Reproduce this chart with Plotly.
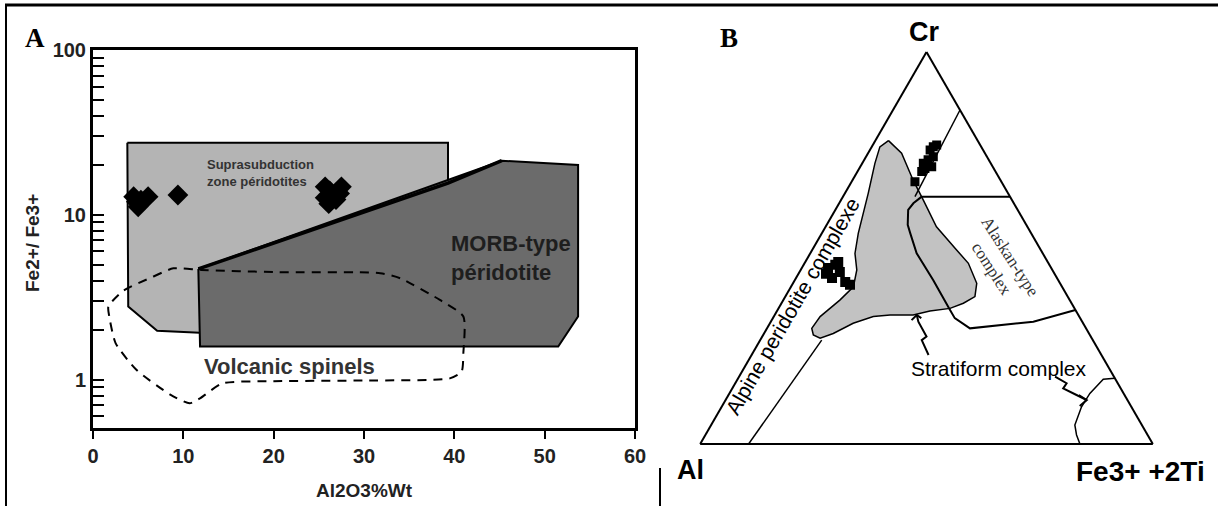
import math
import plotly.graph_objects as go

# ---------------- Panel A data ----------------
supra_x = [3.8, 39.3, 39.3, 11.8, 7.1, 3.9, 3.8]
supra_y = [27.4, 27.4, 12.0, 1.93, 1.98, 2.78, 27.4]

morb_x = [11.66, 45.25, 53.7, 53.7, 51.5, 11.85, 11.66]
morb_y = [4.7, 21.3, 20.1, 2.42, 1.59, 1.59, 4.7]

morb_edge_x = [11.66, 39.3, 45.25]
morb_edge_y = [4.7, 15.6, 21.3]

volc_x = [3.3, 6.7, 8.9, 12.0, 20.0, 31.8, 34.0, 38.4, 41.0, 41.0, 40.8, 39.5, 30.0, 20.0,
          14.3, 11.9, 10.7, 8.6, 4.8, 2.5, 1.8, 1.7, 3.3]
volc_y = [3.45, 4.23, 4.74, 4.64, 4.5, 4.43, 4.13, 3.05, 2.42, 1.46, 1.12, 1.02, 0.99, 0.98,
          0.95, 0.775, 0.72, 0.81, 1.15, 1.67, 2.42, 2.78, 3.45]

grpA_x = [4.5, 5.0, 6.1, 5.3, 4.8, 9.4]
grpA_y = [12.9, 11.2, 12.9, 12.3, 12.0, 13.2]
grpB_x = [25.7, 27.5, 26.1, 26.6, 27.3, 25.7, 26.9, 26.2]
grpB_y = [14.8, 14.8, 11.7, 13.1, 13.5, 12.7, 12.4, 14.0]

x_ticks = [0, 10, 20, 30, 40, 50, 60]
y_ticks = [0.6, 0.7, 0.8, 0.9, 1, 2, 3, 4, 5, 6, 7, 8, 9, 10,
           20, 30, 40, 50, 60, 70, 80, 90, 100]
y_labels = {1: "1", 10: "10", 100: "100"}

# ---------------- Panel B data (Cr, Al, Fe3+ +2Ti, in %) ----------------
strat_cr = [77.4, 74.2, 67.3, 62.2, 55.4, 49.5, 46.1, 41.0, 37.6, 35.9, 34.6, 33.9, 32.9, 32.9, 32.5,
            30.8, 28.2, 27.0, 27.8, 29.5, 32.5, 36.7, 40.1, 44.4, 48.6, 53.75, 63.95, 71.6, 75.8, 77.4]
strat_al = [19.7, 18.4, 19.3, 19.6, 20.1, 18.6, 17.7, 18.4, 20.5, 23.9, 27.5, 32.3, 36.5, 41.6, 45.5,
            50.8, 56.5, 60.0, 61.1, 60.6, 57.25, 50.8, 46.1, 43.2, 41.5, 38.2, 30.9, 25.6, 22.4, 19.7]
strat_fe = [2.9, 7.4, 13.4, 18.2, 24.5, 31.9, 36.2, 40.6, 41.9, 40.2, 37.9, 33.8, 30.6, 25.5, 22.0,
            18.4, 15.3, 13.0, 11.1, 9.9, 10.25, 12.5, 13.8, 12.4, 9.9, 8.05, 5.15, 2.8, 1.8, 2.9]

alp_cr = [0.0, 26.5]
alp_al = [89.3, 59.9]
alp_fe = [10.7, 13.6]

l2_cr = [85.2, 63.1]
l2_al = [0.0, 21.0]
l2_fe = [14.8, 15.9]

l3_cr = [63.1, 63.1]
l3_al = [19.5, 0.0]
l3_fe = [17.4, 36.9]

alask_cr = [63.1, 61.4, 59.7, 55.9, 53.8, 48.65, 41.8, 34.2, 32.1, 29.5, 31.2, 34.2]
alask_al = [19.5, 22.2, 24.2, 26.2, 26.7, 27.85, 27.6, 27.7, 27.7, 25.65, 10.8, 0.0]
alask_fe = [17.4, 16.4, 16.1, 17.9, 19.5, 23.5, 30.6, 38.1, 40.2, 44.85, 58.0, 65.8]

fec_cr = [16.8, 16.5, 12.9, 9.5, 4.85, 2.3, 0.0]
fec_al = [0.0, 2.7, 7.45, 11.0, 14.8, 15.7, 16.1]
fec_fe = [83.2, 80.8, 79.6, 79.5, 80.35, 82.0, 83.9]

zz1_cr = [22.7, 26.5, 27.4, 31.2, 32.9]
zz1_al = [38.2, 37.8, 36.3, 36.2, 35.7]
zz1_fe = [39.1, 35.7, 36.3, 32.6, 31.4]
ah1_cr = [31.6, 32.9, 32.1]
ah1_al = [37.5, 35.7, 35.1]
ah1_fe = [30.9, 31.4, 32.8]

zz2_cr = [17.2, 15.5, 14.2, 12.5, 11.2]
zz2_al = [13.0, 11.3, 12.7, 10.6, 9.0]
zz2_fe = [69.8, 73.2, 73.1, 76.9, 79.8]
ah2_cr = [12.5, 11.2, 9.7]
ah2_al = [10.1, 9.0, 11.3]
ah2_fe = [77.4, 79.8, 79.0]

s1_cr = [66.9, 69.5, 70.3, 71.6, 72.5, 70.7, 73.3, 75.8, 76.3, 75.0]
s1_al = [19.1, 16.3, 15.2, 14.9, 13.4, 13.5, 11.85, 10.6, 9.6, 11.7]
s1_fe = [14.0, 14.2, 14.5, 13.5, 14.1, 15.8, 14.85, 13.6, 14.1, 13.3]

s2_cr = [44.9, 45.7, 43.9, 42.35, 41.3, 40.6, 43.4, 46.4]
s2_al = [49.3, 47.3, 47.2, 49.7, 47.3, 46.6, 50.5, 46.3]
s2_fe = [5.8, 7.0, 8.9, 7.95, 11.4, 12.8, 6.1, 7.3]

SANS = "Liberation Sans, Arial, sans-serif"
SERIF = "Liberation Serif, Times New Roman, serif"

fig = go.Figure()

# Panel A
fig.add_trace(go.Scatter(x=supra_x, y=supra_y, mode="lines", fill="toself",
                         fillcolor="#b4b4b4", line=dict(color="black", width=2),
                         hoverinfo="skip"))
fig.add_trace(go.Scatter(x=morb_x, y=morb_y, mode="lines", fill="toself",
                         fillcolor="#6b6b6b", line=dict(color="black", width=2),
                         hoverinfo="skip"))
fig.add_trace(go.Scatter(x=morb_edge_x, y=morb_edge_y, mode="lines",
                         line=dict(color="black", width=3.5), hoverinfo="skip"))
fig.add_trace(go.Scatter(x=volc_x, y=volc_y, mode="lines",
                         line=dict(color="black", width=2, dash="9px,7px", shape="spline",
                                   smoothing=0.6),
                         hoverinfo="skip"))
fig.add_trace(go.Scatter(x=grpA_x + grpB_x, y=grpA_y + grpB_y, mode="markers",
                         marker=dict(symbol="diamond", size=16, color="black"),
                         hoverinfo="skip"))

# Panel B
def tern(a, b, c, **kw):
    fig.add_trace(go.Scatterternary(a=a, b=b, c=c, subplot="ternary", hoverinfo="skip", **kw))

tern(strat_cr, strat_al, strat_fe, mode="lines", fill="toself", fillcolor="#c2c2c2",
     line=dict(color="black", width=1.5))
tern(alp_cr, alp_al, alp_fe, mode="lines", line=dict(color="black", width=1.5))
tern(l2_cr, l2_al, l2_fe, mode="lines", line=dict(color="black", width=1.5))
tern(l3_cr, l3_al, l3_fe, mode="lines", line=dict(color="black", width=2))
tern(alask_cr, alask_al, alask_fe, mode="lines", line=dict(color="black", width=2))
tern(fec_cr, fec_al, fec_fe, mode="lines", line=dict(color="black", width=1.5))
tern(zz1_cr, zz1_al, zz1_fe, mode="lines", line=dict(color="black", width=2))
tern(ah1_cr, ah1_al, ah1_fe, mode="lines", line=dict(color="black", width=2))
tern(zz2_cr, zz2_al, zz2_fe, mode="lines", line=dict(color="black", width=2))
tern(ah2_cr, ah2_al, ah2_fe, mode="lines", line=dict(color="black", width=2))
tern(s1_cr, s1_al, s1_fe, mode="markers", marker=dict(symbol="square", size=9, color="black"))
tern(s2_cr, s2_al, s2_fe, mode="markers", marker=dict(symbol="square", size=10, color="black"))

tern_axis = dict(showticklabels=False, ticks="", showgrid=False, linecolor="black",
                 linewidth=2, title=dict(text=""))

W, H = 1218, 506

def px(xp, yp):
    return xp / W, 1 - yp / H

annotations = []
def ann(text, xp, yp, size, weight="normal", font=SANS, angle=0, color="black", **kw):
    x, y = px(xp, yp)
    annotations.append(dict(text=text, x=x, y=y, xref="paper", yref="paper", showarrow=False,
                            textangle=angle,
                            font=dict(family=font, size=size, color=color, weight=weight),
                            xanchor="center", yanchor="middle", **kw))

ann("A", 35, 38, 27, weight="bold", font=SERIF)
ann("B", 729, 38, 27, weight="bold", font=SERIF)
ann("Cr", 924, 32, 27, weight="bold")
ann("Al", 690, 470, 27, weight="bold")
ann("Fe3+ +2Ti", 1140, 471, 28, weight="bold")
ann("Fe2+/ Fe3+", 32, 243, 19, weight="bold", angle=-90, color="#222")
ann("Al2O3%Wt", 364, 490, 19, weight="bold", color="#222")
ann("Alpine peridotite complexe", 792, 306, 21, angle=-60)
ann("Alaskan-type<br>complex", 1001, 262, 17, font=SERIF, angle=57, color="#333")
ann("Stratiform complex", 999, 368, 21)

# in-plot labels of panel A (data coordinates, log10 for y)
def dann(text, x, y, size, color):
    annotations.append(dict(text=text, x=x, y=math.log10(y), xref="x", yref="y", showarrow=False,
                            xanchor="left", yanchor="middle", align="left",
                            font=dict(family=SANS, size=size, color=color, weight="bold")))

dann("Suprasubduction<br>zone péridotites", 12.4, 18.0, 13, "#333")
dann("MORB-type<br>péridotite", 39.4, 5.5, 22, "#1e1e1e")
dann("Volcanic spinels", 12.1, 1.2, 22, "#333")

shapes = [
    dict(type="line", xref="paper", yref="paper", x0=5 / W, x1=1, y0=1 - 5 / H, y1=1 - 5 / H,
         line=dict(color="black", width=3)),
    dict(type="line", xref="paper", yref="paper", x0=6 / W, x1=6 / W, y0=0, y1=1 - 5 / H,
         line=dict(color="black", width=2)),
    dict(type="line", xref="paper", yref="paper", x0=660 / W, x1=660 / W, y0=0, y1=1 - 468 / H,
         line=dict(color="black", width=2)),
]

fig.update_layout(
    template="none",
    autosize=True, margin=dict(l=0, r=0, t=0, b=0, pad=0, autoexpand=False),
    paper_bgcolor="white", plot_bgcolor="white", showlegend=False,
    xaxis=dict(domain=[93 / W, 635 / W], range=[0, 60], tickvals=x_ticks, automargin=False,
               ticks="outside", ticklen=8, tickwidth=2, tickcolor="black",
               showline=True, linewidth=3, linecolor="black", mirror=True,
               showgrid=False, zeroline=False,
               tickfont=dict(family=SANS, size=20, color="#222", weight="bold")),
    yaxis=dict(domain=[1 - 428 / H, 1 - 50 / H], type="log", range=[math.log10(0.51), 2],
               tickvals=y_ticks, ticktext=[y_labels.get(v, "") for v in y_ticks], automargin=False,
               ticks="inside", ticklen=11, tickwidth=2, tickcolor="black",
               showline=True, linewidth=3, linecolor="black", mirror=True,
               showgrid=False, zeroline=False,
               tickfont=dict(family=SANS, size=20, color="#222", weight="bold")),
    ternary=dict(domain=dict(x=[700 / W, 1153 / W], y=[1 - 444 / H, 1 - 52 / H]),
                 sum=100, bgcolor="white",
                 aaxis=tern_axis, baxis=tern_axis, caxis=tern_axis),
    annotations=annotations, shapes=shapes,
)

fig.write_html(
    "out.html",
    default_width="100vw", default_height="100vh",
    config={"displayModeBar": False, "responsive": True},
    post_script=("document.documentElement.style.margin='0';"
                 "document.body.style.margin='0';document.body.style.overflow='hidden';"
                 "Plotly.Plots.resize(document.getElementById('{plot_id}'));"),
)
